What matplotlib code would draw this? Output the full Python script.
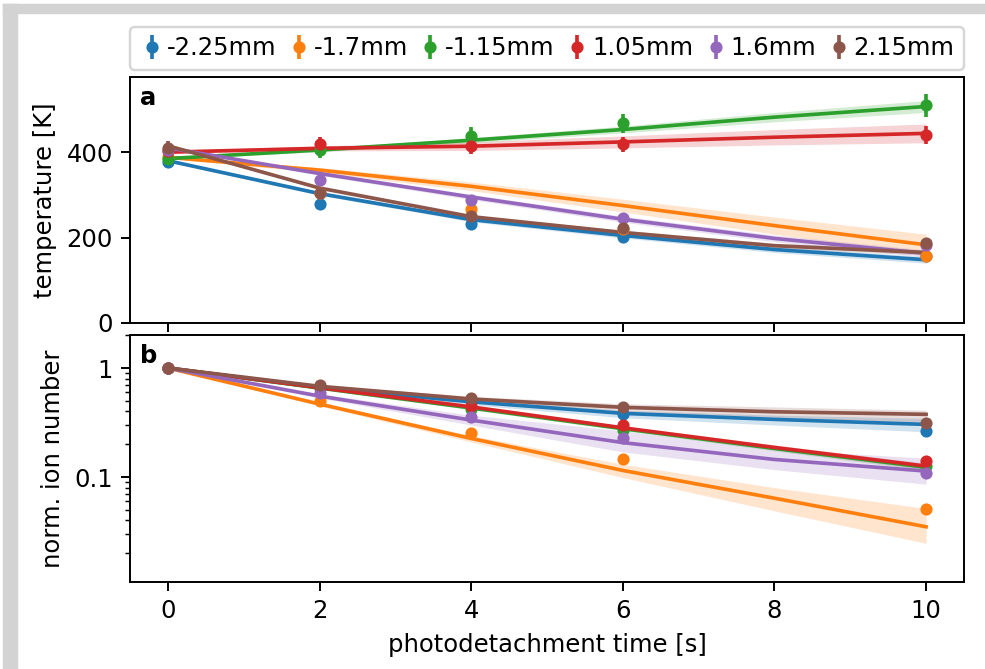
import numpy as np
import matplotlib
matplotlib.use('Agg')
import matplotlib.pyplot as plt
from matplotlib.patches import Rectangle

# measured data
t_meas = [0, 2, 4, 6, 10]
labels = ['-2.25mm', '-1.7mm', '-1.15mm', '1.05mm', '1.6mm', '2.15mm']
colors = ['C0', 'C1', 'C2', 'C3', 'C4', 'C5']

temp = [
    [378, 279, 231, 202, 158],
    [388, 305, 268, 220, 157],
    [384, 404, 438, 468, 510],
    [402, 418, 414, 418, 440],
    [404, 334, 288, 246, 182],
    [410, 305, 250, 223, 188],
]
temp_err = [
    [15, 12, 12, 10, 10],
    [15, 12, 12, 12, 10],
    [15, 18, 22, 22, 27],
    [15, 17, 18, 18, 22],
    [15, 12, 12, 10, 10],
    [15, 12, 12, 10, 10],
]
ions = [
    [1, 0.67, 0.50, 0.379, 0.264],
    [1, 0.498, 0.252, 0.146, 0.0508],
    [1, 0.66, 0.418, 0.27, 0.126],
    [1, 0.665, 0.448, 0.30, 0.141],
    [1, 0.594, 0.353, 0.23, 0.108],
    [1, 0.70, 0.527, 0.442, 0.31],
]

# fit curves with confidence bands
t_fit = [0, 2, 4, 6, 8, 10]
temp_fit = [
    [380, 303, 242, 205, 172, 148],
    [388, 358, 320, 275, 228, 183],
    [385, 405, 428, 453, 482, 507],
    [400, 409, 414, 424, 435, 444],
    [410, 350, 295, 243, 198, 163],
    [415, 316, 249, 212, 181, 165],
]
temp_lo = [
    [377, 299, 237, 199, 165, 140],
    [385, 352, 310, 260, 208, 158],
    [383, 401, 422, 445, 471, 493],
    [397, 403, 404, 410, 417, 422],
    [408, 346, 289, 236, 190, 155],
    [413, 313, 245, 207, 175, 159],
]
temp_hi = [
    [383, 307, 247, 211, 179, 156],
    [391, 364, 330, 290, 248, 208],
    [387, 409, 434, 461, 493, 521],
    [403, 415, 424, 438, 453, 466],
    [412, 354, 301, 250, 206, 171],
    [417, 319, 253, 217, 187, 171],
]
ion_fit = [
    [1, 0.66, 0.49, 0.384, 0.338, 0.304],
    [1, 0.467, 0.226, 0.115, 0.064, 0.035],
    [1, 0.655, 0.43, 0.278, 0.183, 0.123],
    [1, 0.66, 0.44, 0.283, 0.187, 0.126],
    [1, 0.553, 0.333, 0.207, 0.145, 0.1135],
    [1, 0.68, 0.52, 0.436, 0.397, 0.376],
]
ion_lo = [
    [1, 0.64, 0.46, 0.35, 0.30, 0.26],
    [1, 0.45, 0.21, 0.099, 0.049, 0.0247],
    [1, 0.64, 0.415, 0.267, 0.174, 0.115],
    [1, 0.645, 0.425, 0.272, 0.178, 0.118],
    [1, 0.53, 0.30, 0.17, 0.117, 0.086],
    [1, 0.66, 0.49, 0.40, 0.35, 0.32],
]
ion_hi = [
    [1, 0.68, 0.52, 0.41, 0.37, 0.345],
    [1, 0.485, 0.24, 0.131, 0.08, 0.0515],
    [1, 0.67, 0.445, 0.29, 0.193, 0.131],
    [1, 0.675, 0.455, 0.295, 0.197, 0.134],
    [1, 0.58, 0.37, 0.265, 0.18, 0.149],
    [1, 0.70, 0.55, 0.47, 0.44, 0.41],
]

DPI = 175
fig = plt.figure(figsize=(985/DPI, 669/DPI), dpi=DPI)
# grey frame of the screenshot
fig.patches.append(Rectangle((4/985, 0), 12.7/985, 1 - 5/669, transform=fig.transFigure,
                             color='#d3d3d3', zorder=0))
fig.patches.append(Rectangle((4/985, 1 - 13.3/669), 1, 8.3/669, transform=fig.transFigure,
                             color='#d3d3d3', zorder=0))

ax1 = fig.add_axes([0.132, 0.5172, 0.8467, 0.3677])
ax2 = fig.add_axes([0.132, 0.1300, 0.8467, 0.3693], sharex=ax1)

for i in range(6):
    ax1.errorbar(t_meas, temp[i], yerr=temp_err[i], fmt='o', ms=4, color=colors[i], label=labels[i])
    ax1.plot(t_fit, temp_fit[i], color=colors[i], lw=1.5)
    ax1.fill_between(t_fit, temp_lo[i], temp_hi[i], color=colors[i], alpha=0.2, lw=0)

    ax2.plot(t_meas, ions[i], 'o', ms=4, color=colors[i])
    ax2.plot(t_fit, ion_fit[i], color=colors[i], lw=1.5)
    ax2.fill_between(t_fit, ion_lo[i], ion_hi[i], color=colors[i], alpha=0.2, lw=0)

ax1.set_ylim(0, 576)
ax1.set_yticks([0, 200, 400])
ax1.set_ylabel('temperature [K]')
ax1.tick_params(labelbottom=False)
ax1.text(0.012, 0.965, 'a', transform=ax1.transAxes, fontweight='bold', va='top')

ax2.set_yscale('log')
ax2.set_ylim(0.0109, 2.01)
ax2.set_yticks([0.1, 1])
ax2.set_yticklabels(['0.1', '1'])
ax2.set_xlim(-0.5, 10.5)
ax2.set_xticks([0, 2, 4, 6, 8, 10])
ax2.set_ylabel('norm. ion number')
ax2.set_xlabel('photodetachment time [s]')
ax2.text(0.012, 0.965, 'b', transform=ax2.transAxes, fontweight='bold', va='top')

ax1.legend(loc='lower left', bbox_to_anchor=(0, 1.028, 1, 0.1), mode='expand', ncol=6,
           handletextpad=0.1, handlelength=1.0, borderaxespad=0, columnspacing=0.8)

plt.savefig('out.png', dpi=DPI)
